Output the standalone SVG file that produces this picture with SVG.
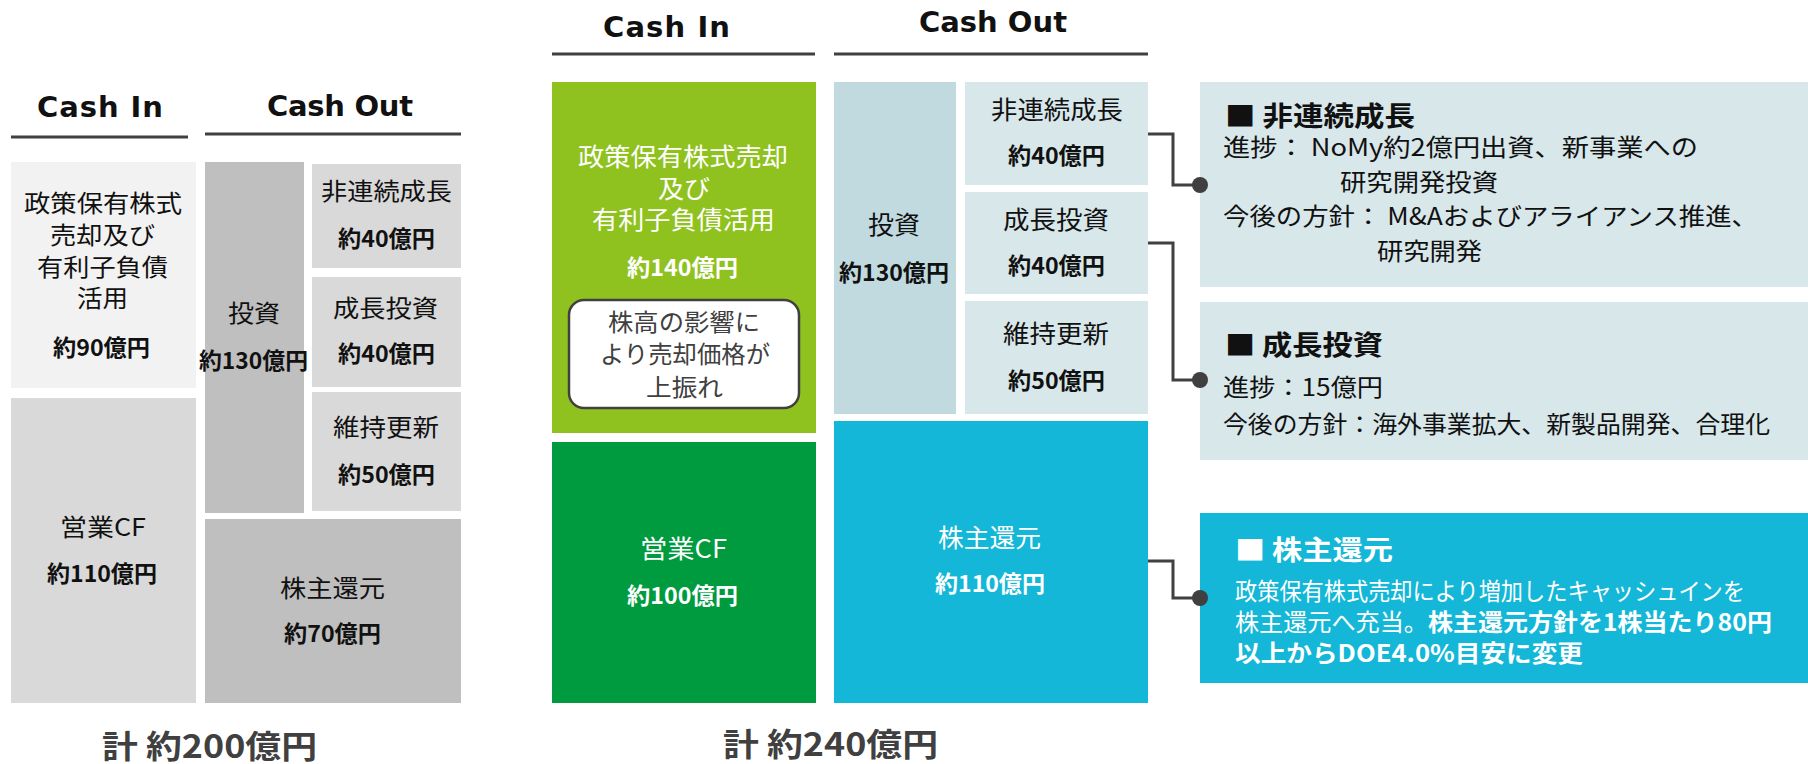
<svg xmlns="http://www.w3.org/2000/svg" width="1808" height="764" viewBox="0 0 1808 764">
<style>
.t{font-family:"Noto Sans CJK JP","Noto Sans CJK SC",sans-serif;fill:#111}
.w{fill:#fff}
.g{fill:#404040}
.b{font-weight:700}
.s24{font-size:24px}
.s25{font-size:25px}
.s23{font-size:23px}
.s27{font-size:27px}
.s32{font-size:32px}
.hd{font-family:"DejaVu Sans",Verdana,sans-serif;font-weight:700;font-size:29px;fill:#111}
.rule{stroke:#404040;stroke-width:3}
.con{fill:none;stroke:#404040;stroke-width:3}
.dot{fill:#404040}
</style>

<!-- ===== Left (before) diagram ===== -->
<g id="left-headers">
  <text class="hd" x="37" y="117" textLength="126" lengthAdjust="spacing">Cash In</text>
  <line class="rule" x1="11" y1="137" x2="188" y2="137"/>
  <text class="hd" x="267" y="116" textLength="146" lengthAdjust="spacing">Cash Out</text>
  <line class="rule" x1="205" y1="134" x2="461" y2="134"/>
</g>
<g id="L-policy">
  <rect x="11" y="162" width="185" height="226" fill="#f2f2f2"/>
  <text class="t s24" x="24" y="212" textLength="158" lengthAdjust="spacingAndGlyphs">政策保有株式</text>
  <text class="t s24" x="50" y="244" textLength="105" lengthAdjust="spacingAndGlyphs">売却及び</text>
  <text class="t s24" x="37" y="276" textLength="131" lengthAdjust="spacingAndGlyphs">有利子負債</text>
  <text class="t s24" x="77" y="307" textLength="51" lengthAdjust="spacingAndGlyphs">活用</text>
  <text class="t s23 b" x="53" y="356" textLength="97" lengthAdjust="spacingAndGlyphs">約90億円</text>
</g>
<g id="L-opcf">
  <rect x="11" y="398" width="185" height="305" fill="#d9d9d9"/>
  <text class="t s24" x="60" y="536" textLength="86" lengthAdjust="spacingAndGlyphs">営業CF</text>
  <text class="t s23 b" x="47" y="582" textLength="110" lengthAdjust="spacingAndGlyphs">約110億円</text>
</g>
<g id="L-invest">
  <rect x="205" y="162" width="99" height="351" fill="#bfbfbf"/>
  <text class="t s24" x="228" y="322" textLength="52" lengthAdjust="spacingAndGlyphs">投資</text>
  <text class="t s23 b" x="199" y="369" textLength="109" lengthAdjust="spacingAndGlyphs">約130億円</text>
</g>
<g id="L-noncont">
  <rect x="312" y="164" width="149" height="104" fill="#d9d9d9"/>
  <text class="t s24" x="321" y="200" textLength="131" lengthAdjust="spacingAndGlyphs">非連続成長</text>
  <text class="t s23 b" x="338" y="247" textLength="97" lengthAdjust="spacingAndGlyphs">約40億円</text>
</g>
<g id="L-growth">
  <rect x="312" y="277" width="149" height="110" fill="#d9d9d9"/>
  <text class="t s24" x="333" y="317" textLength="105" lengthAdjust="spacingAndGlyphs">成長投資</text>
  <text class="t s23 b" x="338" y="362" textLength="97" lengthAdjust="spacingAndGlyphs">約40億円</text>
</g>
<g id="L-maint">
  <rect x="312" y="392" width="149" height="119" fill="#d9d9d9"/>
  <text class="t s24" x="333" y="436" textLength="106" lengthAdjust="spacingAndGlyphs">維持更新</text>
  <text class="t s23 b" x="338" y="483" textLength="97" lengthAdjust="spacingAndGlyphs">約50億円</text>
</g>
<g id="L-return">
  <rect x="205" y="519" width="256" height="184" fill="#bfbfbf"/>
  <text class="t s24" x="280" y="597" textLength="105" lengthAdjust="spacingAndGlyphs">株主還元</text>
  <text class="t s23 b" x="284" y="642" textLength="97" lengthAdjust="spacingAndGlyphs">約70億円</text>
</g>
<g id="L-total">
  <text class="t g s32 b" x="102" y="758" textLength="215" lengthAdjust="spacingAndGlyphs">計 約200億円</text>
</g>

<!-- ===== Right (after) diagram ===== -->
<g id="right-headers">
  <text class="hd" x="603" y="37" textLength="127" lengthAdjust="spacing">Cash In</text>
  <line class="rule" x1="552" y1="54" x2="815" y2="54"/>
  <text class="hd" x="919" y="32" textLength="148" lengthAdjust="spacing">Cash Out</text>
  <line class="rule" x1="834" y1="54" x2="1148" y2="54"/>
</g>
<g id="R-policy">
  <rect x="552" y="82" width="264" height="351" fill="#8fc21f"/>
  <text class="t w s25" x="578" y="165.5" textLength="210" lengthAdjust="spacingAndGlyphs">政策保有株式売却</text>
  <text class="t w s25" x="658" y="197.5" textLength="52" lengthAdjust="spacingAndGlyphs">及び</text>
  <text class="t w s25" x="592" y="228.5" textLength="183" lengthAdjust="spacingAndGlyphs">有利子負債活用</text>
  <text class="t w s23 b" x="627" y="275.7" textLength="111" lengthAdjust="spacingAndGlyphs">約140億円</text>
</g>
<g id="R-note">
  <rect x="569" y="300" width="230" height="108" rx="15" ry="15" fill="#fff" stroke="#404040" stroke-width="2.5"/>
  <text class="t g s24" x="608" y="331" textLength="152" lengthAdjust="spacingAndGlyphs">株高の影響に</text>
  <text class="t g s24" x="600" y="363" textLength="170" lengthAdjust="spacingAndGlyphs">より売却価格が</text>
  <text class="t g s24" x="646" y="396" textLength="77" lengthAdjust="spacingAndGlyphs">上振れ</text>
</g>
<g id="R-opcf">
  <rect x="552" y="442" width="264" height="261" fill="#009a3f"/>
  <text class="t w s25" x="640" y="557.5" textLength="87" lengthAdjust="spacingAndGlyphs">営業CF</text>
  <text class="t w s23 b" x="627" y="603.7" textLength="111" lengthAdjust="spacingAndGlyphs">約100億円</text>
</g>
<g id="R-invest">
  <rect x="834" y="82" width="122" height="332" fill="#c0dadf"/>
  <text class="t s25" x="868" y="233.5" textLength="52" lengthAdjust="spacingAndGlyphs">投資</text>
  <text class="t s23 b" x="839" y="280.7" textLength="110" lengthAdjust="spacingAndGlyphs">約130億円</text>
</g>
<g id="R-noncont">
  <rect x="965" y="82" width="183" height="103" fill="#d8e7ea"/>
  <text class="t s25" x="991" y="118.5" textLength="132" lengthAdjust="spacingAndGlyphs">非連続成長</text>
  <text class="t s23 b" x="1008" y="163.7" textLength="97" lengthAdjust="spacingAndGlyphs">約40億円</text>
</g>
<g id="R-growth">
  <rect x="965" y="192" width="183" height="102" fill="#d8e7ea"/>
  <text class="t s25" x="1003" y="228.5" textLength="106" lengthAdjust="spacingAndGlyphs">成長投資</text>
  <text class="t s23 b" x="1008" y="273.7" textLength="97" lengthAdjust="spacingAndGlyphs">約40億円</text>
</g>
<g id="R-maint">
  <rect x="965" y="301" width="183" height="113" fill="#d8e7ea"/>
  <text class="t s25" x="1003" y="342.5" textLength="106" lengthAdjust="spacingAndGlyphs">維持更新</text>
  <text class="t s23 b" x="1008" y="388.7" textLength="97" lengthAdjust="spacingAndGlyphs">約50億円</text>
</g>
<g id="R-return">
  <rect x="834" y="421" width="314" height="282" fill="#14b7d7"/>
  <text class="t w s25" x="938" y="546.5" textLength="103" lengthAdjust="spacingAndGlyphs">株主還元</text>
  <text class="t w s23 b" x="935" y="591.7" textLength="110" lengthAdjust="spacingAndGlyphs">約110億円</text>
</g>
<g id="R-total">
  <text class="t g s32 b" x="723" y="756" textLength="215" lengthAdjust="spacingAndGlyphs">計 約240億円</text>
</g>

<!-- ===== Info panels ===== -->
<g id="info-noncont">
  <rect x="1200" y="82" width="608" height="205" fill="#d8e7ea"/>
  <text class="t s27 b" x="1225" y="126" textLength="190" lengthAdjust="spacingAndGlyphs">■ 非連続成長</text>
  <text class="t s24" x="1223" y="156" textLength="475" lengthAdjust="spacingAndGlyphs">進捗： NoMy約2億円出資、新事業への</text>
  <text class="t s24" x="1340" y="191" textLength="158" lengthAdjust="spacingAndGlyphs">研究開発投資</text>
  <text class="t s24" x="1223" y="225" textLength="535" lengthAdjust="spacingAndGlyphs">今後の方針： M&amp;Aおよびアライアンス推進、</text>
  <text class="t s24" x="1377" y="260" textLength="105" lengthAdjust="spacingAndGlyphs">研究開発</text>
</g>
<g id="info-growth">
  <rect x="1200" y="302" width="608" height="158" fill="#d8e7ea"/>
  <text class="t s27 b" x="1225" y="355" textLength="158" lengthAdjust="spacingAndGlyphs">■ 成長投資</text>
  <text class="t s24" x="1223" y="396" textLength="160" lengthAdjust="spacingAndGlyphs">進捗：15億円</text>
  <text class="t s24" x="1223" y="433" textLength="547" lengthAdjust="spacingAndGlyphs">今後の方針：海外事業拡大、新製品開発、合理化</text>
</g>
<g id="info-return">
  <rect x="1200" y="513" width="608" height="170" fill="#14b7d7"/>
  <text class="t w s27 b" x="1235" y="560" textLength="158" lengthAdjust="spacingAndGlyphs">■ 株主還元</text>
  <text class="t w s24" x="1235" y="600" textLength="510" lengthAdjust="spacingAndGlyphs">政策保有株式売却により増加したキャッシュインを</text>
  <text class="t w s24" x="1235" y="631" textLength="193" lengthAdjust="spacingAndGlyphs">株主還元へ充当。</text>
  <text class="t w s24 b" x="1428" y="631" textLength="344" lengthAdjust="spacingAndGlyphs">株主還元方針を1株当たり80円</text>
  <text class="t w s24 b" x="1235" y="662" textLength="348" lengthAdjust="spacingAndGlyphs">以上からDOE4.0%目安に変更</text>
</g>

<!-- ===== Connectors ===== -->
<g id="connectors">
  <path class="con" d="M1148,134 H1173 V185 H1200"/>
  <circle class="dot" cx="1200" cy="185" r="8"/>
  <path class="con" d="M1148,243 H1173 V380 H1200"/>
  <circle class="dot" cx="1200" cy="380" r="8"/>
  <path class="con" d="M1148,561 H1173 V598 H1200"/>
  <circle class="dot" cx="1200" cy="598" r="8"/>
</g>
</svg>
